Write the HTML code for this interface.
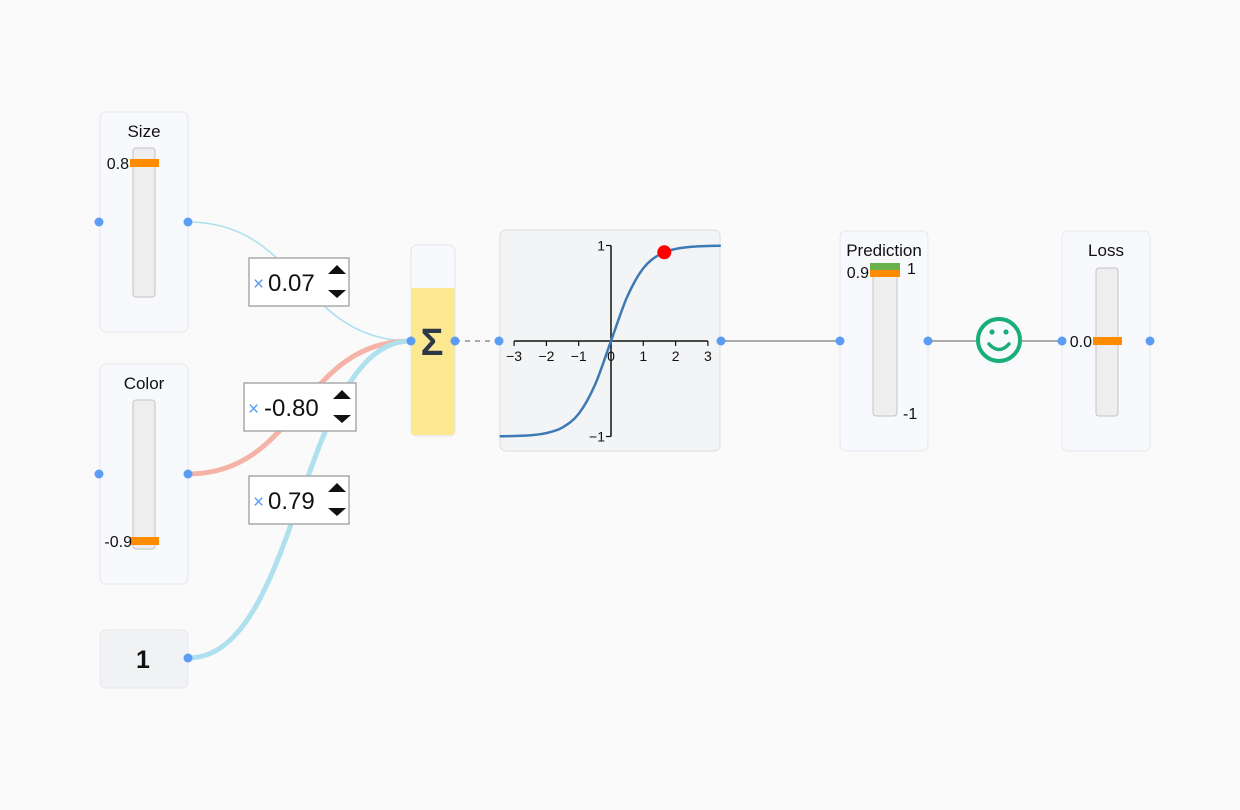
<!DOCTYPE html>
<html><head><meta charset="utf-8">
<style>
html,body{margin:0;padding:0;background:#fafafa;}
svg{display:block;font-family:"Liberation Sans","Noto Sans CJK SC",sans-serif;}
</style></head>
<body>
<svg id="root" width="1240" height="810" viewBox="0 0 1240 810">
<rect x="0" y="0" width="1240" height="810" fill="#fafafa"/>

<!-- edges -->
<path d="M188,222 C300,222 300,341 411,341" fill="none" stroke="#aee0ee" stroke-width="1.6"/>
<path d="M188,474 C300,474 300,341 411,341" fill="none" stroke="#f5b3a8" stroke-width="5"/>
<path d="M188,658 C300,658 300,341 411,341" fill="none" stroke="#aee0ee" stroke-width="5"/>
<line x1="455" y1="341" x2="499" y2="341" stroke="#aaa" stroke-width="2" stroke-dasharray="5,5"/>
<line x1="721" y1="341" x2="840" y2="341" stroke="#aaa" stroke-width="2"/>
<line x1="928" y1="341" x2="976" y2="341" stroke="#aaa" stroke-width="2"/>
<line x1="1020" y1="341" x2="1062" y2="341" stroke="#aaa" stroke-width="2"/>

<!-- Size card -->
<g>
<rect x="100" y="112" width="88" height="220" rx="6" fill="#f7f9fc" stroke="#e6e8ec"/>
<text x="144" y="137" font-size="17" text-anchor="middle" fill="#111">Size</text>
<rect x="133" y="148" width="22" height="149" rx="3" fill="#eeeeee" stroke="#c4c4c4"/>
<rect x="130" y="159" width="29" height="8" fill="#ff8c00"/>
<text x="129" y="169" font-size="16" text-anchor="end" fill="#111">0.8</text>
</g>
<!-- Color card -->
<g>
<rect x="100" y="364" width="88" height="220" rx="6" fill="#f7f9fc" stroke="#e6e8ec"/>
<text x="144" y="389" font-size="17" text-anchor="middle" fill="#111">Color</text>
<rect x="133" y="400" width="22" height="149" rx="3" fill="#eeeeee" stroke="#c4c4c4"/>
<rect x="130" y="537" width="29" height="8" fill="#ff8c00"/>
<text x="132" y="547" font-size="16" text-anchor="end" fill="#111">-0.9</text>
</g>
<!-- bias -->
<g>
<rect x="100" y="630" width="88" height="58" rx="6" fill="#f1f2f4" stroke="#e6e8ec"/>
<text x="143" y="668" font-size="25" font-weight="bold" text-anchor="middle" fill="#111">1</text>
</g>

<!-- weights -->
<g>
<rect x="249" y="258" width="100" height="48" fill="#fff" stroke="#aaa" stroke-width="1.5"/>
<text x="253" y="290" font-size="19" fill="#5b9bf0">×</text>
<text x="268" y="291" font-size="24" fill="#111">0.07</text>
<path d="M328,274 l9,-9 l9,9z M328,290 l9,8 l9,-8z" fill="#111"/>
</g>
<g>
<rect x="244" y="383" width="112" height="48" fill="#fff" stroke="#aaa" stroke-width="1.5"/>
<text x="248" y="415" font-size="19" fill="#5b9bf0">×</text>
<text x="264" y="416" font-size="24" fill="#111">-0.80</text>
<path d="M333,399 l9,-9 l9,9z M333,415 l9,8 l9,-8z" fill="#111"/>
</g>
<g>
<rect x="249" y="476" width="100" height="48" fill="#fff" stroke="#aaa" stroke-width="1.5"/>
<text x="253" y="508" font-size="19" fill="#5b9bf0">×</text>
<text x="268" y="509" font-size="24" fill="#111">0.79</text>
<path d="M328,492 l9,-9 l9,9z M328,508 l9,8 l9,-8z" fill="#111"/>
</g>

<!-- sum node -->
<g>
<rect x="411" y="245" width="44" height="191" rx="6" fill="#f7f9fc" stroke="#e3e5e8"/>
<rect x="411.5" y="288" width="43" height="147" fill="#fce98f"/>
<text x="432" y="355" font-size="38" font-weight="bold" text-anchor="middle" fill="#2d3748">Σ</text>
</g>

<!-- activation chart -->
<g id="chart">
<rect x="500" y="230" width="220" height="221" rx="6" fill="#f3f4f6" stroke="#dcdde0"/>
</g>

<!-- Prediction -->
<g>
<rect x="840" y="231" width="88" height="220" rx="6" fill="#f7f9fc" stroke="#e6e8ec"/>
<text x="884" y="256" font-size="17" text-anchor="middle" fill="#111">Prediction</text>
<rect x="873" y="264" width="24" height="152" rx="3" fill="#eeeeee" stroke="#c4c4c4"/>
<rect x="870" y="263" width="30" height="7" fill="#6ab04c"/>
<rect x="870" y="270" width="30" height="7" fill="#ff8c00"/>
<text x="869" y="278" font-size="16" text-anchor="end" fill="#111">0.9</text>
<text x="907" y="274" font-size="16" fill="#111">1</text>
<text x="903" y="419" font-size="16" fill="#111">-1</text>
</g>
<!-- smiley -->
<g>
<rect x="976" y="316" width="46" height="50" rx="5" fill="#f7f9fc"/>
<circle cx="999" cy="340" r="21" fill="none" stroke="#19ae78" stroke-width="4"/>
<circle cx="992" cy="332" r="2.6" fill="#19ae78"/>
<circle cx="1006" cy="332" r="2.6" fill="#19ae78"/>
<path d="M989,344 Q999,355 1009,344" fill="none" stroke="#19ae78" stroke-width="3.5" stroke-linecap="round"/>
</g>
<!-- Loss -->
<g>
<rect x="1062" y="231" width="88" height="220" rx="6" fill="#f7f9fc" stroke="#e6e8ec"/>
<text x="1106" y="256" font-size="17" text-anchor="middle" fill="#111">Loss</text>
<rect x="1096" y="268" width="22" height="148" rx="3" fill="#eeeeee" stroke="#c4c4c4"/>
<rect x="1093" y="337" width="29" height="8" fill="#ff8c00"/>
<text x="1092" y="347" font-size="16" text-anchor="end" fill="#111">0.0</text>
</g>

<!-- connector dots -->
<g fill="#5b9cf5">
<circle cx="99" cy="222" r="4.5"/>
<circle cx="188" cy="222" r="4.5"/>
<circle cx="99" cy="474" r="4.5"/>
<circle cx="188" cy="474" r="4.5"/>
<circle cx="188" cy="658" r="4.5"/>
<circle cx="411" cy="341" r="4.5"/>
<circle cx="455" cy="341" r="4.5"/>
<circle cx="499" cy="341" r="4.5"/>
<circle cx="721" cy="341" r="4.5"/>
<circle cx="840" cy="341" r="4.5"/>
<circle cx="928" cy="341" r="4.5"/>
<circle cx="1062" cy="341" r="4.5"/>
<circle cx="1150" cy="341" r="4.5"/>
</g>
</svg>
<script>
const xTicks = [-3, -2, -1, 0, 1, 2, 3];
const yTicks = [-1, 1];
const curveX = [-3.45, -3, -2.5, -2, -1.5, -1, -0.5, 0, 0.5, 1, 1.5, 2, 2.5, 3, 3.4];
const curveY = [-0.998, -0.995, -0.987, -0.964, -0.905, -0.762, -0.462, 0, 0.462, 0.762, 0.905, 0.964, 0.987, 0.995, 0.998];
const pointX = [1.65];
const pointY = [0.929];

const NS = 'http://www.w3.org/2000/svg';
const chart = document.getElementById('chart');
const sx = v => 611 + v * 32.3;
const sy = v => 341 - v * 95.5;
function mk(tag, attrs) {
  const e = document.createElementNS(NS, tag);
  for (const k in attrs) e.setAttribute(k, attrs[k]);
  chart.appendChild(e);
  return e;
}
let ax = mk('line', {x1: sx(-3), y1: sy(0), x2: sx(3), y2: sy(0), stroke: '#111', 'stroke-width': 1.5});


let ay = mk('line', {x1: sx(0), y1: sy(-1), x2: sx(0), y2: sy(1), stroke: '#111', 'stroke-width': 1.5});


xTicks.forEach(t => {
  let tk = mk('line', {x1: sx(t), y1: sy(0), x2: sx(t), y2: sy(0) + 5, stroke: '#111', 'stroke-width': 1.2});
  
  
  let lb = mk('text', {x: sx(t), y: sy(0) + 20, 'font-size': 14, 'text-anchor': 'middle', fill: '#111'});
  lb.textContent = t < 0 ? '\u2212' + Math.abs(t) : String(t);
  
  
});
yTicks.forEach(t => {
  let tk = mk('line', {x1: sx(0) - 5, y1: sy(t), x2: sx(0), y2: sy(t), stroke: '#111', 'stroke-width': 1.2});
  
  
  let lb = mk('text', {x: sx(0) - 6, y: sy(t) + 5, 'font-size': 14, 'text-anchor': 'end', fill: '#111'});
  lb.textContent = t < 0 ? '\u2212' + Math.abs(t) : String(t);
  
  
});
const P = curveX.map((x, i) => [sx(x), sy(curveY[i])]);
let d = 'M' + P[0][0] + ',' + P[0][1];
for (let i = 0; i < P.length - 1; i++) {
  const p0 = P[i - 1] || P[i], p1 = P[i], p2 = P[i + 1], p3 = P[i + 2] || P[i + 1];
  const c1 = [p1[0] + (p2[0] - p0[0]) / 6, p1[1] + (p2[1] - p0[1]) / 6];
  const c2 = [p2[0] - (p3[0] - p1[0]) / 6, p2[1] - (p3[1] - p1[1]) / 6];
  d += ' C' + c1.join(',') + ' ' + c2.join(',') + ' ' + p2.join(',');
}
let curve = mk('path', {d: d, fill: 'none', stroke: '#3d7ab5', 'stroke-width': 2.5});


pointX.forEach((x, i) => {
  let c = mk('circle', {cx: sx(x), cy: sy(pointY[i]), r: 7, fill: '#f00'});
  
  
});
</script>
</body></html>
